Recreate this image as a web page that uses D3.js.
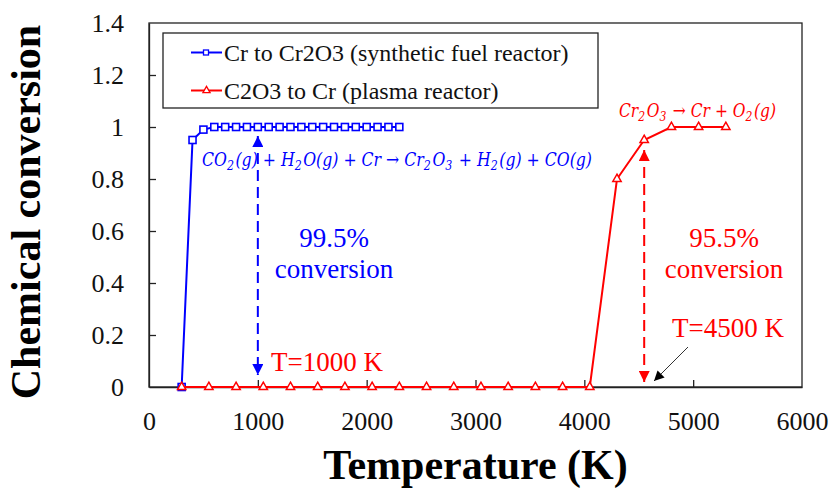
<!DOCTYPE html>
<meta charset="utf-8">
<head>
<script src="https://d3js.org/d3.v7.min.js"></script>
<style>
body { margin: 0; background: #fff; }
</style>
</head>
<body>
<div id="chart"></div>
<script>
// data
var blueT = [300, 400, 500, 600, 700, 800, 900, 1000, 1100, 1200, 1300, 1400, 1500,
             1600, 1700, 1800, 1900, 2000, 2100, 2200, 2300];
var blueConv = [0, 0.95, 0.99, 1, 1, 1, 1, 1, 1, 1, 1, 1, 1, 1, 1, 1, 1, 1, 1, 1, 1];

var redT = [300, 550, 800, 1050, 1300, 1550, 1800, 2050, 2300, 2550, 2800, 3050, 3300,
            3550, 3800, 4050, 4300, 4550, 4800, 5050, 5300];
var redConv = [0, 0, 0, 0, 0, 0, 0, 0, 0, 0, 0, 0, 0, 0, 0, 0, 0.8, 0.95, 1, 1, 1];

var xTicks = [0, 1000, 2000, 3000, 4000, 5000, 6000];
var yTicks = [0, 0.2, 0.4, 0.6, 0.8, 1, 1.2, 1.4];
var seriesNames = ["Cr to Cr2O3 (synthetic fuel reactor)", "C2O3 to Cr (plasma reactor)"];

var blue = "#0000ff", red = "#ff0000";
var serif = "Liberation Serif";

var margin = {top: 23, right: 35, bottom: 103, left: 149},
    width = 837 - margin.left - margin.right,
    height = 490 - margin.top - margin.bottom;

var svg = d3.select("#chart").append("svg")
    .attr("width", 837).attr("height", 490)
  .append("g")
    .attr("transform", "translate(" + margin.left + "," + margin.top + ")");

var x = d3.scaleLinear().domain([0, 6000]).range([0, width]);
var y = d3.scaleLinear().domain([0, 1.4]).range([height, 0]);

// arrow markers
var defs = svg.append("defs");
function arrowHead(id, color, size) {
  defs.append("marker")
      .attr("id", id)
      .attr("viewBox", "0 0 10 10")
      .attr("refX", 10).attr("refY", 5)
      .attr("markerWidth", size).attr("markerHeight", size)
      .attr("markerUnits", "userSpaceOnUse")
      .attr("orient", "auto-start-reverse")
    .append("path")
      .attr("d", "M0,0 L10,5 L0,10 z")
      .attr("fill", color);
}
arrowHead("ab", blue, 11);
arrowHead("ar", red, 11);
arrowHead("ak", "#000", 10);

// frame
svg.append("rect")
    .attr("width", width).attr("height", height)
    .attr("fill", "none").attr("stroke", "#222").attr("stroke-width", 1.3);

// axes (ticks pointing inside)
var xAxis = svg.append("g")
    .attr("transform", "translate(0," + height + ")")
    .call(d3.axisBottom(x).tickValues(xTicks).tickSizeInner(-7).tickSizeOuter(0).tickPadding(25)
      .tickFormat(d3.format("d")));
var yAxis = svg.append("g")
    .call(d3.axisLeft(y).tickValues(yTicks).tickSizeInner(-7).tickSizeOuter(0).tickPadding(25)
      .tickFormat(function(d) { return String(+d.toFixed(1)); }));
[xAxis, yAxis].forEach(function(a) {
  a.attr("font-family", null).attr("font-size", null);
  a.select(".domain").attr("stroke", "#222").attr("stroke-width", 1.3);
  a.selectAll(".tick line").attr("stroke", "#222").attr("stroke-width", 1.3);
  a.selectAll(".tick text").style("font-family", serif)
    .style("font-size", "26px").attr("fill", "#111");
});
xAxis.selectAll(".tick").filter(function(d) { return d === 0 || d === 6000; })
  .select("line").remove();
yAxis.selectAll(".tick").filter(function(d) { return d === 0 || d === 1.4; })
  .select("line").remove();

// axis titles
svg.append("text")
    .attr("x", width / 2).attr("y", height + 92)
    .attr("text-anchor", "middle")
    .style("font-family", serif).style("font-size", "42px").style("font-weight", "bold")
    .text("Temperature (K)");
svg.append("text")
    .attr("transform", "translate(" + (-109) + "," + (height / 2 + 7) + ") rotate(-90)")
    .attr("text-anchor", "middle")
    .style("font-family", serif).style("font-size", "42px").style("font-weight", "bold")
    .text("Chemical conversion");

// series
var line = d3.line().x(function(d) { return x(d[0]); }).y(function(d) { return y(d[1]); });
var blueData = d3.zip(blueT, blueConv);
var redData = d3.zip(redT, redConv);

svg.append("path").datum(blueData).attr("d", line)
    .attr("fill", "none").attr("stroke", blue).attr("stroke-width", 2);
svg.selectAll(".sq").data(blueData).enter().append("rect")
    .attr("class", "sq")
    .attr("x", function(d) { return x(d[0]) - 3.5; })
    .attr("y", function(d) { return y(d[1]) - 3.5; })
    .attr("width", 7).attr("height", 7)
    .attr("fill", "#fff").attr("stroke", blue).attr("stroke-width", 1.6);

svg.append("path").datum(redData).attr("d", line)
    .attr("fill", "none").attr("stroke", red).attr("stroke-width", 2);
svg.selectAll(".tri").data(redData).enter().append("path")
    .attr("class", "tri")
    .attr("transform", function(d) { return "translate(" + x(d[0]) + "," + y(d[1]) + ")"; })
    .attr("d", d3.symbol().type(d3.symbolTriangle).size(30))
    .attr("fill", "#fff").attr("stroke", red).attr("stroke-width", 1.5);

// dashed double arrows
svg.append("line")
    .attr("x1", x(1000)).attr("x2", x(1000))
    .attr("y1", y(1) + 9).attr("y2", y(0) - 12)
    .attr("stroke", blue).attr("stroke-width", 2).attr("stroke-dasharray", "11,6")
    .attr("marker-start", "url(#ab)").attr("marker-end", "url(#ab)");
svg.append("line")
    .attr("x1", x(4550)).attr("x2", x(4550))
    .attr("y1", y(0.95) + 10).attr("y2", y(0) - 5)
    .attr("stroke", red).attr("stroke-width", 2).attr("stroke-dasharray", "11,6")
    .attr("marker-start", "url(#ar)").attr("marker-end", "url(#ar)");

// black pointer arrow
svg.append("line")
    .attr("x1", 688 - margin.left).attr("y1", 347 - margin.top)
    .attr("x2", 654 - margin.left).attr("y2", 381 - margin.top)
    .attr("stroke", "#333").attr("stroke-width", 1)
    .attr("marker-end", "url(#ak)");

// annotation texts
function label(tx, ty, str, color, anchor) {
  return svg.append("text")
      .attr("x", tx).attr("y", ty - margin.top)
      .attr("text-anchor", anchor || "middle")
      .style("font-family", serif).style("font-size", "27px").attr("fill", color)
      .text(str);
}
label(334 - margin.left, 247, "99.5%", blue);
label(334 - margin.left, 278, "conversion", blue);
label(724 - margin.left, 247, "95.5%", red);
label(724 - margin.left, 278, "conversion", red);
label(271 - margin.left, 371, "T=1000 K", red, "start");
label(672 - margin.left, 337, "T=4500 K", red, "start");

// equations with subscripts
function equation(tx, ty, parts, color, size, len) {
  var t = svg.append("text")
      .attr("x", tx).attr("y", ty - margin.top)
      .attr("fill", color)
      .style("font-size", size + "px")
      .style("font-style", "italic").style("font-family", "DejaVu Serif");
  parts.forEach(function(p) {
    if (p[1]) {
      t.append("tspan").attr("dy", 4).style("font-size", (size * 0.7) + "px").text(p[0]);
      t.append("tspan").attr("dy", -4).text("\u200a");
    } else {
      t.append("tspan").text(p[0]);
    }
  });
  t.attr("textLength", len).attr("lengthAdjust", "spacingAndGlyphs");
  return t;
}
equation(202 - margin.left, 166, [["CO"], ["2", 1], ["(g) + H"], ["2", 1], ["O(g) + Cr \u2192 Cr"], ["2", 1],
  ["O"], ["3", 1], [" + H"], ["2", 1], ["(g) + CO(g)"]], blue, 19, 390);
equation(619 - margin.left, 117, [["Cr"], ["2", 1], ["O"], ["3", 1], [" \u2192 Cr + O"], ["2", 1], ["(g)"]],
  red, 19, 157);

// legend
var lg = svg.append("g").attr("transform", "translate(" + (163 - margin.left) + "," + (33 - margin.top) + ")");
lg.append("rect").attr("width", 435).attr("height", 75)
    .attr("fill", "#fff").attr("stroke", "#222").attr("stroke-width", 1.3);
[blue, red].forEach(function(c, i) {
  var row = lg.append("g").attr("transform", "translate(0," + (19.5 + i * 38) + ")");
  row.append("line").attr("x1", 28).attr("x2", 59).attr("stroke", c).attr("stroke-width", 2);
  if (i === 0) {
    row.append("rect").attr("x", 40.5).attr("y", -2.5).attr("width", 5).attr("height", 5)
        .attr("fill", "#fff").attr("stroke", c).attr("stroke-width", 1.3);
  } else {
    row.append("path").attr("transform", "translate(43.5,0)")
        .attr("d", d3.symbol().type(d3.symbolTriangle).size(22))
        .attr("fill", "#fff").attr("stroke", c).attr("stroke-width", 1.3);
  }
  row.append("text").attr("x", 61).attr("y", 8)
      .style("font-family", serif).style("font-size", "24px").attr("fill", "#111")
      .text(seriesNames[i]);
});
</script>
</body>
</html>
